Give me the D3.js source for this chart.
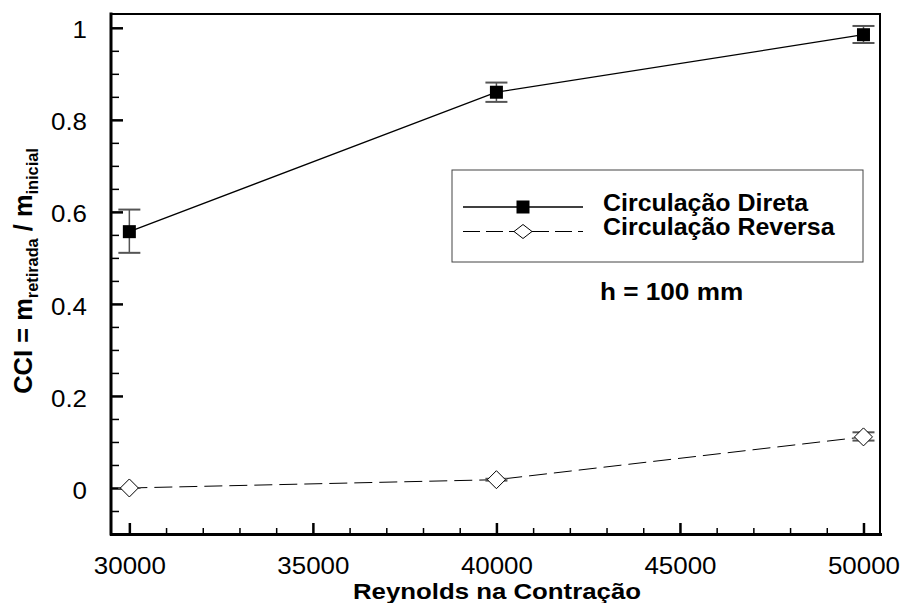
<!DOCTYPE html>
<html>
<head>
<meta charset="utf-8">
<script src="https://cdnjs.cloudflare.com/ajax/libs/d3/7.8.5/d3.min.js"></script>
<style>
  body { margin: 0; background: #fff; }
  svg { display: block; font-family: "Liberation Sans", Arial, sans-serif; }
</style>
</head>
<body>
<script>
// CCI x Reynolds na contração, h = 100 mm
var reynolds = [30000, 40000, 50000];
var diretaCCI = [0.557, 0.860, 0.985],
    diretaLow = [0.511, 0.839, 0.967],
    diretaHigh = [0.605, 0.881, 1.004];
var reversaCCI = [0.000, 0.018, 0.111],
    reversaLow = [0.000, 0.016, 0.103],
    reversaHigh = [0.000, 0.020, 0.121];
var seriesNames = ["Circulação Direta", "Circulação Reversa"];
var xTicks = [30000, 35000, 40000, 45000, 50000],
    yTicks = [0, 0.2, 0.4, 0.6, 0.8, 1];
var xTitle = "Reynolds na Contração",
    note = "h = 100 mm";

var width = 902, height = 603,
    plot = {left: 111, right: 880, top: 14, bottom: 534};

var svg = d3.select("body").append("svg")
    .attr("width", width)
    .attr("height", height);

var x = d3.scaleLinear().domain([29500, 50450]).range([plot.left, plot.right]),
    y = d3.scaleLinear().domain([-0.1, 1.03]).range([plot.bottom, plot.top]);

var series = [
  {name: seriesNames[0], symbol: "square", dash: null,
   values: reynolds.map(function(r, i){ return {re: r, v: diretaCCI[i], lo: diretaLow[i], hi: diretaHigh[i]}; })},
  {name: seriesNames[1], symbol: "diamond", dash: "18,7",
   values: reynolds.map(function(r, i){ return {re: r, v: reversaCCI[i], lo: reversaLow[i], hi: reversaHigh[i]}; })}
];

// frame (top/right thinner)
svg.append("rect")
    .attr("x", plot.left).attr("y", plot.top)
    .attr("width", plot.right - plot.left).attr("height", plot.bottom - plot.top)
    .attr("fill", "none").attr("stroke", "#000").attr("stroke-width", 2);

// minor ticks (pointing inside)
var xMinor = d3.range(30000, 50001, 1000).filter(function(d){ return d % 5000 !== 0; }),
    yMinor = d3.range(-1, 21).map(function(d){ return d * 0.05; })
              .filter(function(d){ return Math.abs(d * 5 - Math.round(d * 5)) > 1e-6; });

svg.append("g")
    .attr("transform", "translate(0," + plot.bottom + ")")
    .call(d3.axisBottom(x).tickValues(xMinor).tickFormat(""))
    .call(function(g){ g.select(".domain").remove(); })
    .selectAll(".tick line").attr("y1", 0).attr("y2", -6).attr("stroke-width", 1.5);

svg.append("g")
    .attr("transform", "translate(" + plot.left + ",0)")
    .call(d3.axisLeft(y).tickValues(yMinor).tickFormat(""))
    .call(function(g){ g.select(".domain").remove(); })
    .selectAll(".tick line").attr("x1", 0).attr("x2", 8).attr("stroke-width", 1.5);

// major axes
var sxTick = 1.08;
var xAxis = svg.append("g")
    .attr("transform", "translate(0," + plot.bottom + ")")
    .call(d3.axisBottom(x).tickValues(xTicks).tickSizeOuter(0).tickSizeInner(0).tickPadding(23)
          .tickFormat(function(d){ return d; }));
xAxis.select(".domain").attr("stroke-width", 3).attr("stroke-linecap", "square");
xAxis.selectAll(".tick line").attr("y1", 0).attr("y2", -11).attr("stroke-width", 2.5);
xAxis.selectAll(".tick text")
    .attr("font-size", 24).attr("font-family", null).attr("fill", "#000")
    .attr("transform", "scale(" + sxTick + ",1)");

var yAxis = svg.append("g")
    .attr("transform", "translate(" + plot.left + ",0)")
    .call(d3.axisLeft(y).tickValues(yTicks).tickSizeOuter(0).tickSizeInner(0).tickPadding(24)
          .tickFormat(function(d){ return d; }));
yAxis.select(".domain").attr("stroke-width", 3).attr("stroke-linecap", "square")
    .attr("d", "M0," + plot.top + "V" + plot.bottom);
yAxis.selectAll(".tick line").attr("x1", 0).attr("x2", 12).attr("stroke-width", 2.5);
yAxis.selectAll(".tick text")
    .attr("font-size", 24).attr("font-family", null).attr("fill", "#000")
    .attr("x", -24 / sxTick).attr("dy", "0.42em")
    .attr("transform", "scale(" + sxTick + ",1)");

// lines
var line = d3.line()
    .x(function(d){ return x(d.re); })
    .y(function(d){ return y(d.v); });

var serie = svg.selectAll(".serie")
    .data(series)
    .enter().append("g")
    .attr("class", "serie");

serie.append("path")
    .attr("d", function(d){ return line(d.values); })
    .attr("fill", "none")
    .attr("stroke", "#000")
    .attr("stroke-width", function(d){ return d.dash ? 1 : 1.3; })
    .attr("stroke-dasharray", function(d){ return d.dash; });

// error bars
var eb = serie.selectAll(".eb")
    .data(function(d){ return d.values; })
    .enter().append("g")
    .attr("class", "eb")
    .attr("stroke", "#555");
eb.append("line")
    .attr("x1", function(d){ return x(d.re); }).attr("x2", function(d){ return x(d.re); })
    .attr("y1", function(d){ return y(d.lo); }).attr("y2", function(d){ return y(d.hi); })
    .attr("stroke-width", 1.5);
eb.selectAll(".cap")
    .data(function(d){ return [{re: d.re, v: d.lo}, {re: d.re, v: d.hi}]; })
    .enter().append("line")
    .attr("x1", function(d){ return x(d.re) - 11; }).attr("x2", function(d){ return x(d.re) + 11; })
    .attr("y1", function(d){ return y(d.v); }).attr("y2", function(d){ return y(d.v); })
    .attr("stroke-width", 2);

// markers
function marker(sel, sym, big) {
  if (sym === "square") {
    sel.append("rect")
        .attr("x", -6.5).attr("y", -6.5).attr("width", 13).attr("height", 13)
        .attr("fill", "#000");
  } else {
    var w = 9, h = big ? 9 : 7;
    sel.append("path")
        .attr("d", "M0," + (-h) + "L" + w + ",0L0," + h + "L" + (-w) + ",0Z")
        .attr("fill", "#fff").attr("stroke", "#000").attr("stroke-width", 1);
  }
}

serie.each(function(s){
  d3.select(this).selectAll(".pt")
      .data(s.values)
      .enter().append("g")
      .attr("class", "pt")
      .attr("transform", function(d){ return "translate(" + x(d.re) + "," + y(d.v) + ")"; })
      .each(function(){ marker(d3.select(this), s.symbol, true); });
});

// legend
var legend = svg.append("g");
legend.append("rect")
    .attr("x", 452).attr("y", 170).attr("width", 411).attr("height", 92)
    .attr("fill", "#fff").attr("stroke", "#444").attr("stroke-width", 1);

var item = legend.selectAll(".item")
    .data(series)
    .enter().append("g")
    .attr("class", "item")
    .attr("transform", function(d, i){ return "translate(0," + (207 + i * 24.5) + ")"; });
item.append("line")
    .attr("x1", 463).attr("x2", 583)
    .attr("stroke", "#000")
    .attr("stroke-width", function(d){ return d.dash ? 1 : 1.3; })
    .attr("stroke-dasharray", function(d){ return d.dash ? "17,6" : null; });
item.append("g")
    .attr("transform", "translate(523,0)")
    .each(function(d){ marker(d3.select(this), d.symbol, false); });
item.append("text")
    .attr("transform", "translate(603,3.5) scale(1.04,1)")
    .attr("font-size", 24).attr("font-weight", "bold")
    .text(function(d){ return d.name; });

svg.append("text")
    .attr("transform", "translate(600,300) scale(1.09,1)")
    .attr("font-size", 24).attr("font-weight", "bold")
    .text(note);

// axis titles
svg.append("text")
    .attr("transform", "translate(497,599) scale(1.2,1)")
    .attr("text-anchor", "middle")
    .attr("font-size", 21.5).attr("font-weight", "bold")
    .text(xTitle);

var yt = svg.append("text")
    .attr("transform", "translate(32,271) rotate(-90) scale(1.02,1)")
    .attr("text-anchor", "middle")
    .attr("font-size", 25).attr("font-weight", "bold");
yt.append("tspan").text("CCI = m");
yt.append("tspan").attr("font-size", 16).attr("dy", 6).text("retirada");
yt.append("tspan").attr("dy", -6).text(" / m");
yt.append("tspan").attr("font-size", 16).attr("dy", 6).text("inicial");
</script>
</body>
</html>
